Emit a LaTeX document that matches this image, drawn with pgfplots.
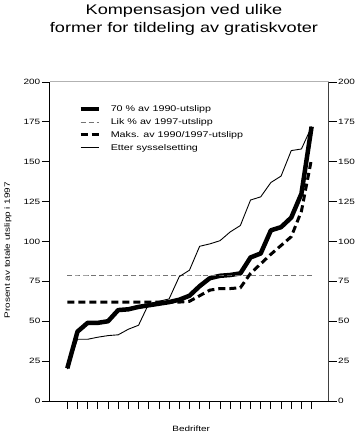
\documentclass[border=0pt]{standalone}
\usepackage{fontspec}
\setmainfont{Liberation Sans}[FakeStretch=1.3]
\usepackage{pgfplots}
\pgfplotsset{compat=1.18}
\pgfplotstableread{
i a lik maks etter
1 20.5 79 62 20
2 43.5 79 62 38.7
3 49 79 62 38.7
4 49 79 62 40
5 50 79 62 41
6 57 79 62 41.5
7 57.5 79 62 45
8 59 79 62 47.5
9 60 79 62 61
10 61 79 62 62.5
11 62 79 62 64
12 63.5 79 62 78
13 66 79 62.5 82
14 72 79 66 97
15 77 79 69.5 98.5
16 78.5 79 70.5 100.5
17 79 79 70.5 106
18 80 79 71 110
19 90 79 80 126
20 92.5 79 86 128
21 107 79 92 137
22 109 79 97.5 141
23 115 79 103 157
24 130 79 119 158
25 172 79 152 172
}\data
\begin{document}
\begin{tikzpicture}
\useasboundingbox (0bp,0bp) rectangle (358bp,434bp);
\begin{axis}[
  at={(50bp,33bp)}, anchor=south west,
  scale only axis, width=278.5bp, height=319bp,
  xmin=-0.7, xmax=26.66, ymin=0, ymax=200,
  axis x line*=bottom, axis y line*=left,
  axis line style={-, black, line width=1bp},
  xtick={1,...,25}, xticklabels={},
  ytick={0,25,...,200},
  tick align=outside, major tick length=8bp,
  tick style={black, line width=0.8bp},
  /pgf/number format/assume math mode=true,
  ticklabel style={font=\fontsize{7.7}{9}\selectfont},
  yticklabel style={inner sep=1.5bp},
  xlabel={Bedrifter},
  xlabel style={font=\fontsize{7.7}{9}\selectfont, at={(axis description cs:0.507,-0.097)}, anchor=base, inner sep=0pt},
  ylabel={Prosent av totale utslipp i 1997},
  ylabel style={font=\fontsize{7.7}{9}\selectfont, at={(axis description cs:-0.151,0.473)}, anchor=center, rotate=0, inner sep=0pt},
  title={Kompensasjon ved ulike\\former for tildeling av gratiskvoter},
  title style={font=\fontsize{14}{18}\selectfont, align=center, at={(axis description cs:0.481,1.224)}, anchor=north, inner sep=0pt},
  legend style={draw=none, fill=none, at={(axis description cs:0.09,0.936)}, anchor=north west,
    font=\fontsize{8.3}{10}\selectfont, row sep=3.8bp, column sep=10bp,
    nodes={inner sep=0pt, text height=7bp, text depth=2bp}, cells={anchor=west}},
  legend image code/.code={\draw[#1] (0bp,0bp) -- (18bp,0bp);},
  clip=false,
]
\addplot[black, line width=4.5bp, line join=round, line cap=butt] table[x=i,y=a]{\data};
\addlegendentry{70 \% av 1990-utslipp}
\addplot[black!55, line width=0.7bp, dash pattern=on 5bp off 3bp] table[x=i,y=lik]{\data};
\addlegendentry{Lik \% av 1997-utslipp}
\addplot[black, line width=3bp, dash pattern=on 7bp off 4bp] table[x=i,y=maks]{\data};
\addlegendentry{Maks. av 1990/1997-utslipp}
\addplot[black, line width=0.9bp, line join=round] table[x=i,y=etter]{\data};
\addlegendentry{Etter sysselsetting}
\end{axis}
\begin{axis}[
  at={(50bp,33bp)}, anchor=south west,
  scale only axis, width=278.5bp, height=319bp,
  xmin=-0.7, xmax=26.66, ymin=0, ymax=200,
  axis x line*=top, axis y line*=right,
  x axis line style={-, black!30, line width=1bp},
  y axis line style={-, black!75, line width=1bp},
  xtick=\empty,
  ytick={0,25,...,200},
  tick align=outside, major tick length=8bp,
  tick style={black, line width=0.8bp},
  /pgf/number format/assume math mode=true,
  ticklabel style={font=\fontsize{7.7}{9}\selectfont},
  yticklabel style={inner sep=1.5bp},
]
\end{axis}
\end{tikzpicture}
\end{document}
